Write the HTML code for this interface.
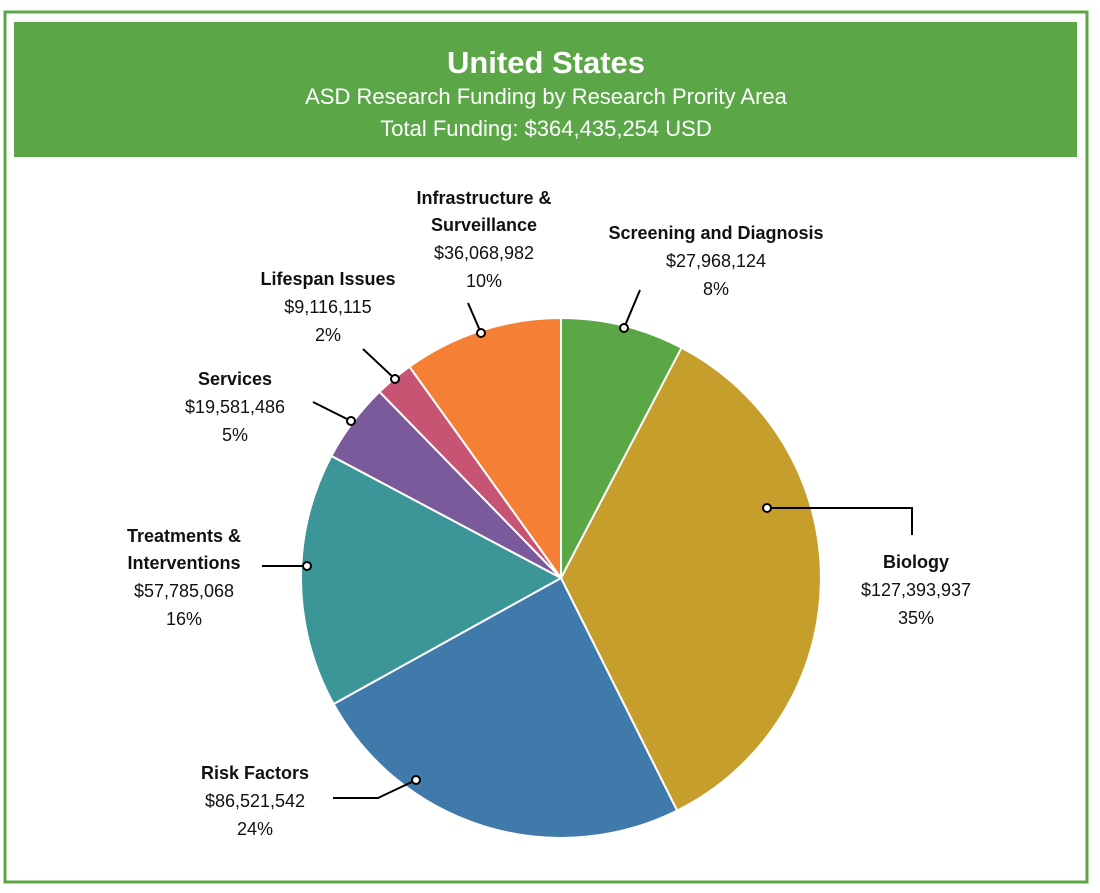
<!DOCTYPE html>
<html><head><meta charset="utf-8"><style>
body{margin:0;background:#fff;}
svg{display:block;font-family:"Liberation Sans",sans-serif;}
</style></head><body>
<svg width="1100" height="893" viewBox="0 0 1100 893">
<rect x="5" y="12" width="1082" height="870" fill="#fff" stroke="#5ba745" stroke-width="3"/>
<rect x="14" y="22" width="1063" height="135" fill="#5ba748"/>
<text x="546" y="73" text-anchor="middle" fill="#fff" font-size="31" font-weight="bold">United States</text>
<text x="546" y="104" text-anchor="middle" fill="#fff" font-size="22">ASD Research Funding by Research Prority Area</text>
<text x="546" y="136" text-anchor="middle" fill="#fff" font-size="22">Total Funding: $364,435,254 USD</text>
<g stroke="#fff" stroke-width="2">
<path d="M561,578 L561,318 A260,260 0 0 1 681.6,347.7 Z" fill="#5ba745"/>
<path d="M561,578 L681.6,347.7 A260,260 0 0 1 677.1,810.6 Z" fill="#c69e2c"/>
<path d="M561,578 L677.1,810.6 A260,260 0 0 1 333.6,704 Z" fill="#3f7aab"/>
<path d="M561,578 L333.6,704 A260,260 0 0 1 331.4,455.9 Z" fill="#3c9597"/>
<path d="M561,578 L331.4,455.9 A260,260 0 0 1 379.5,391.8 Z" fill="#7a5a9a"/>
<path d="M561,578 L379.5,391.8 A260,260 0 0 1 409.5,366.7 Z" fill="#c75473"/>
<path d="M561,578 L409.5,366.7 A260,260 0 0 1 561,318 Z" fill="#f47f35"/>
</g>
<g stroke="#000" stroke-width="2" fill="none">
<polyline points="624,328 640,290"/>
<polyline points="767,508 912,508 912,535"/>
<polyline points="416,780 378,798 333,798"/>
<polyline points="307,566 262,566"/>
<polyline points="351,421 313,402"/>
<polyline points="395,379 363,349"/>
<polyline points="481,333 468,303"/>
</g>
<g fill="#fff" stroke="#000" stroke-width="2">
<circle cx="624" cy="328" r="4"/><circle cx="767" cy="508" r="4"/><circle cx="416" cy="780" r="4"/>
<circle cx="307" cy="566" r="4"/><circle cx="351" cy="421" r="4"/><circle cx="395" cy="379" r="4"/><circle cx="481" cy="333" r="4"/>
</g>
<g font-size="18" fill="#111" text-anchor="middle">
<text x="716" y="239" font-weight="bold">Screening and Diagnosis</text>
<text x="716" y="267">$27,968,124</text><text x="716" y="295">8%</text>
<text x="484" y="204" font-weight="bold">Infrastructure &amp;</text>
<text x="484" y="231" font-weight="bold">Surveillance</text>
<text x="484" y="259">$36,068,982</text><text x="484" y="287">10%</text>
<text x="328" y="285" font-weight="bold">Lifespan Issues</text>
<text x="328" y="313">$9,116,115</text><text x="328" y="341">2%</text>
<text x="235" y="385" font-weight="bold">Services</text>
<text x="235" y="413">$19,581,486</text><text x="235" y="441">5%</text>
<text x="184" y="542" font-weight="bold">Treatments &amp;</text>
<text x="184" y="569" font-weight="bold">Interventions</text>
<text x="184" y="597">$57,785,068</text><text x="184" y="625">16%</text>
<text x="916" y="568" font-weight="bold">Biology</text>
<text x="916" y="596">$127,393,937</text><text x="916" y="624">35%</text>
<text x="255" y="779" font-weight="bold">Risk Factors</text>
<text x="255" y="807">$86,521,542</text><text x="255" y="835">24%</text>
</g>
</svg>
</body></html>
